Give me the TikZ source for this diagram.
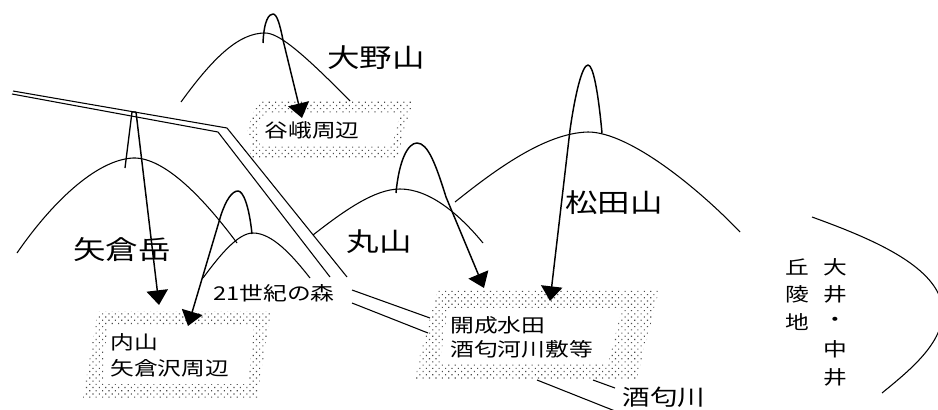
\documentclass[tikz,border=0pt]{standalone}
\usepackage{fontspec}
\newfontfamily\jpfont[FakeStretch=1.25]{Noto Sans CJK JP}
\newcommand\jpbig{\jpfont\fontsize{19.5pt}{22pt}\selectfont}
\newcommand\jpmid{\jpfont\fontsize{16.5pt}{19pt}\selectfont}
\newcommand\jpsmall{\jpfont\fontsize{14.25pt}{17pt}\selectfont}
\usetikzlibrary{arrows.meta,patterns.meta}

\tikzset{
  ridge/.style={line width=0.8pt, line join=round},
  river/.style={line width=0.8pt, line join=miter},
  flow/.style={line width=1.1pt, line join=round,
    -{Triangle[width=16pt,length=11pt]}},
  stipple/.style={pattern={Dots[radius=0.6pt,distance=3.4pt,angle=45]},
    pattern color=black!70},
  clearing/.style={fill=white},
  bigname/.style={font=\jpbig, inner sep=0pt},
  midname/.style={font=\jpmid, inner sep=0pt},
  smallname/.style={font=\jpsmall, inner sep=0pt},
}

\begin{document}
\begin{tikzpicture}[x=0.75pt,y=-0.75pt]
\clip (0,0) rectangle (938,410);
\fill[white] (0,0) rectangle (938,410);

% ---- receiving areas (stippled bands) ----
\fill[stipple] (258,101) -- (414,101) -- (402,138) -- (398,158) -- (250,158)
  -- (251,140) -- (247,130) -- cycle;
\fill[clearing] (266,113) -- (400,113) -- (392,146) -- (260,146) -- (257,128) -- cycle;

\fill[stipple] (438,290) -- (659,290) -- (637,380) -- (415,380) -- (420,355)
  -- (427,330) -- (435,300) -- cycle;
\fill[clearing] (448,308) -- (622,308) -- (608,363) -- (440,363) -- (444,335) -- cycle;

\fill[stipple] (98,311) -- (271,311) -- (257,398) -- (83,398) -- (92,345) -- cycle;
\fill[clearing] (108,326) -- (254,326) -- (248,384) -- (103,384) -- (105,350) -- cycle;

% ---- arrow targets ----
\coordinate (tipOno)    at (302,118);
\coordinate (tipYagura) at (159,305);
\coordinate (tipMori)   at (188,326);
\coordinate (tipMaru)   at (484,288);
\coordinate (tipMatsu)  at (550,301);

% ---- mountain ridges ----
% Ono-yama
\draw[ridge] (181,102) .. controls (215,55) and (240,33) .. (265,33)
  .. controls (278,33) and (300,50) .. (350,101);
% Yagura-dake
\draw[ridge] (17,253) .. controls (50,205) and (95,160) .. (133,158)
  .. controls (165,157) and (205,200) .. (237,243);
% 21st-century forest hill
\draw[ridge] (203,278) .. controls (220,255) and (238,233) .. (253,233)
  .. controls (272,233) and (292,255) .. (310,278);
% Maru-yama
\draw[ridge] (313,235) .. controls (345,210) and (375,189) .. (400,189)
  .. controls (430,189) and (460,215) .. (483,243);
% Matsuda-yama
\draw[ridge] (455,202) .. controls (495,170) and (545,133) .. (588,132)
  .. controls (630,132) and (700,190) .. (740,232);
% Oi / Nakai hills
\draw[ridge] (812,217) .. controls (870,238) and (935,265) .. (942,305)
  .. controls (948,340) and (910,370) .. (882,393);

% ---- river (double line) ----
\draw[river] (13,91) -- (227,128) -- (347,277);
\draw[river] (12,94) -- (218,132) -- (330,277);
\draw[river] (352,290) -- (430,318);
\draw[river] (352,303) -- (428,333);
\draw[river] (537,380) -- (615,411);
\draw[river] (593,380) -- (615,388);

% ---- peaks and flows ----
\draw[flow] (263,43) .. controls (264,20) and (269,14) .. (273,14)
  .. controls (277,14) and (280,25) .. (283,40) -- (tipOno);
\draw[line width=1pt] (125,168) -- (132,112) -- (136,112);
\draw[flow] (136,112) -- (tipYagura);
\draw[flow] (252,234) .. controls (249,205) and (243,191) .. (238,191)
  .. controls (232,191) and (226,200) .. (221,215) -- (tipMori);
\draw[flow] (396,193) .. controls (399,160) and (408,143) .. (417,143)
  .. controls (428,143) and (436,165) .. (446,197) -- (tipMaru);
\draw[flow] (602,133) .. controls (598,90) and (593,65) .. (588,65)
  .. controls (582,65) and (575,95) .. (570,130) -- (tipMatsu);

% ---- names ----
\node[bigname] (ono)    at (376,57.5) {大野山};
\node[bigname] (yagura) at (122,250) {矢倉岳};
\node[bigname] (maru)   at (379,242) {丸山};
\node[bigname] (matsu)  at (614,203) {松田山};
\node[midname] (sakawa) at (664,397) {酒匂川};

\node[smallname] (yaga)  at (312,130) {谷峨周辺};
\node[smallname] (mori)  at (274,293) {21世紀の森};
\node[smallname, anchor=west] (uchi1) at (110,342) {内山};
\node[smallname, anchor=west] (uchi2) at (110,368) {矢倉沢周辺};
\node[smallname, anchor=west] (kai1)  at (450,325) {開成水田};
\node[smallname, anchor=west] (kai2)  at (450,349) {酒匂河川敷等};

\foreach \ch [count=\i] in {丘,陵,地}
  \node[smallname] (kyu\i) at (797,{267+27.5*(\i-1)}) {\ch};
\foreach \ch [count=\i] in {大,井,・,中,井}
  \node[smallname] (oi\i) at (835,{267+27.5*(\i-1)}) {\ch};
\end{tikzpicture}
\end{document}
